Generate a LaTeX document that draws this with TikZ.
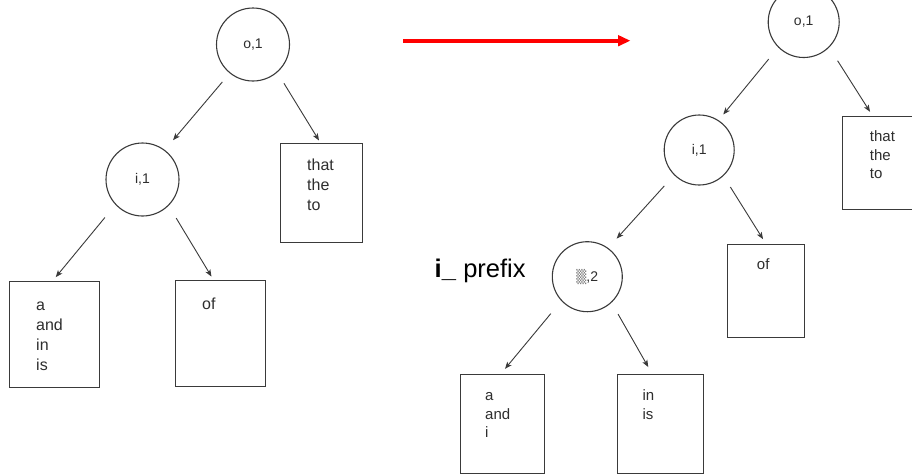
\documentclass[tikz,border=0pt]{standalone}
\usepackage{fontspec}
\setmainfont{Liberation Sans}
\newfontfamily\dejavu{DejaVu Sans}
\usetikzlibrary{arrows.meta}
\definecolor{ink}{HTML}{3A3A3A}
\definecolor{txt}{HTML}{2E2E2E}
% a column of words whose reference point is the baseline of its first line
\newcommand{\wordlist}[1]{\begin{tabular}[t]{@{}l@{}}#1\end{tabular}}
\begin{document}
\begin{tikzpicture}[x=1pt,y=-1pt,
  trienode/.style={circle,draw=ink,line width=1.1pt,inner sep=0pt,minimum size=#1,
    text=txt,font=\fontsize{14}{16}\selectfont},
  bucket/.style={rectangle,draw=ink,line width=1.1pt,inner sep=0pt,anchor=north west},
  words/.style={anchor=base west,inner sep=0pt,text=txt},
  wordsL/.style={words,font=\fontsize{16}{20}\selectfont},
  wordsR/.style={words,font=\fontsize{15}{18.3}\selectfont},
  link/.style={draw=ink,line width=0.9pt,-{Stealth[length=7pt,width=5.5pt,inset=1.8pt]}},
]
\useasboundingbox (0,0) rectangle (912,475);
\clip (0,0) rectangle (912,475);
\fill[white] (0,0) rectangle (912,475);

% ---------- tree before the split ----------
\node[trienode=73pt] (o1L) at (253,44.5) {o,1};
\node[trienode=73pt] (i1L) at (142.5,179.5) {i,1};
\node[bucket,minimum width=82pt,minimum height=99pt] (thatL) at (280,143) {};
\node[bucket,minimum width=90pt,minimum height=106pt] (aL) at (9,281) {};
\node[bucket,minimum width=90pt,minimum height=106pt] (ofL) at (175,280) {};

\node[wordsL] (thatLtxt) at ([xshift=27pt,yshift=-27.7pt]thatL.north west) {\wordlist{that\\the\\to}};
\node[wordsL] (aLtxt) at ([xshift=27pt,yshift=-29pt]aL.north west) {\wordlist{a\\and\\in\\is}};
\node[wordsL] (ofLtxt) at ([xshift=27pt,yshift=-29.3pt]ofL.north west) {of};

\draw[link,shorten <=11.4pt,shorten >=12.8pt] (o1L.231.7) -- (i1L.53.2);
\draw[link,shorten <=12.7pt,shorten >=3pt] (o1L.-49.9) -- ([xshift=-1pt]thatL.north);
\draw[link,shorten <=16.5pt,shorten >=5pt] (i1L.223.5) -- ([xshift=-2pt]aL.north);
\draw[link,shorten <=14.5pt,shorten >=4pt] (i1L.-45.8) -- ([xshift=-7pt]ofL.north);

% ---------- red transition arrow ----------
\coordinate (splitFrom) at (403,40.7);
\coordinate (splitTo) at (630.5,40.7);
\draw[red,line width=4.2pt,-{Triangle[length=12.5pt,width=10.5pt]}] (splitFrom) -- (splitTo);

% ---------- tree after the split ----------
\node[trienode=71pt] (o1R) at (803.7,22) {o,1};
\node[trienode=70pt] (i1R) at (699.2,150) {i,1};
\node[trienode=70pt] (x2R) at (587.3,276.7) {{\dejavu\fontsize{13}{15}\selectfont\color{gray}▒},2};
\node[bucket,minimum width=90pt,minimum height=93.3pt] (thatR) at (841.7,116) {};
\node[bucket,minimum width=77.6pt,minimum height=93.3pt] (ofR) at (726.7,244) {};
\node[bucket,minimum width=84.3pt,minimum height=99.3pt] (aR) at (460,374) {};
\node[bucket,minimum width=85.4pt,minimum height=99.3pt] (inR) at (617.3,374) {};

\node[wordsR] (thatRtxt) at ([xshift=28pt,yshift=-25.7pt]thatR.north west) {\wordlist{that\\the\\to}};
\node[wordsR] (ofRtxt) at ([xshift=30pt,yshift=-25.3pt]ofR.north west) {of};
\node[wordsR] (aRtxt) at ([xshift=25pt,yshift=-26.7pt]aR.north west) {\wordlist{a\\and\\i}};
\node[wordsR] (inRtxt) at ([xshift=25pt,yshift=-26.7pt]inR.north west) {\wordlist{in\\is}};

\node[anchor=base west,inner sep=0pt,font=\fontsize{25.5}{30}\selectfont] (prefix)
  at (434.5,277.7) {\textbf{i\_} prefix};

\draw[link,shorten <=15pt,shorten >=7.4pt] (o1R.225.7) -- (i1R.57.8);
\draw[link,shorten <=15.7pt,shorten >=5pt] (o1R.-45) -- ([xshift=31pt]thatR.north west);
\draw[link,shorten <=14.6pt,shorten >=12.6pt] (i1R.225.1) -- (x2R.54.2);
\draw[link,shorten <=13pt,shorten >=5.7pt] (i1R.-47.1) -- (ofR.north);
\draw[link,shorten <=16.4pt,shorten >=6.7pt] (x2R.223.2) -- ([xshift=-2pt]aR.north);
\draw[link,shorten <=13.2pt,shorten >=8pt] (x2R.-47) -- ([xshift=-8.3pt]inR.north);
\end{tikzpicture}
\end{document}
